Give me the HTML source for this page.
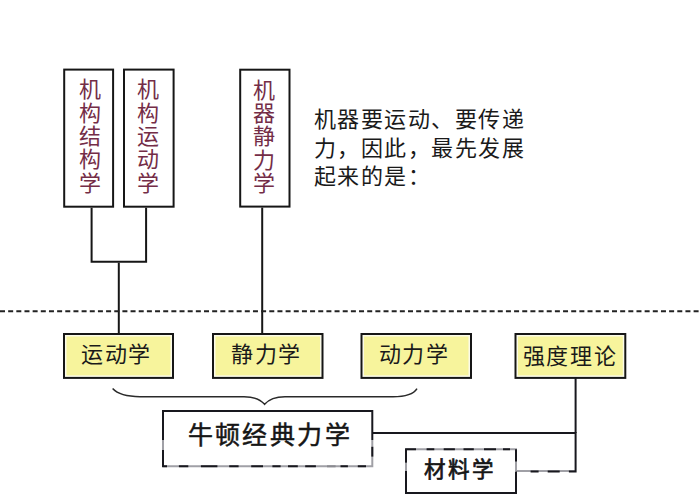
<!DOCTYPE html>
<html lang="zh-CN"><head><meta charset="utf-8">
<style>
html,body{margin:0;padding:0;background:#fff;}
body{width:700px;height:498px;position:relative;overflow:hidden;font-family:"Liberation Sans",sans-serif;}
svg{position:absolute;left:0;top:0;}
.t{position:absolute;white-space:nowrap;line-height:1;}
.v{color:#742d47;font-size:22px;width:24px;line-height:23.3px;}
.p{color:#1a1a1a;font-size:22px;line-height:28.2px;letter-spacing:1.5px;}
.y{color:#1a1a1a;font-size:22px;line-height:22px;letter-spacing:1.6px;}
.b{color:#161616;font-size:25px;line-height:25px;letter-spacing:2.4px;-webkit-text-stroke:0.5px #161616;}
</style></head><body>
<svg width="700" height="498" viewBox="0 0 700 498">
 <g fill="none" stroke="#161616" stroke-width="2">
  <rect x="64.2" y="69.6" width="48.9" height="137.1"/>
  <rect x="124" y="69.6" width="49.6" height="137.1"/>
  <rect x="240.2" y="69.7" width="49.3" height="136.9"/>
  <path d="M91.6 207.7 V261.7 H146.1 V207.7"/>
  <path d="M118.8 262.7 V333"/>
  <path d="M262.2 207.6 V333"/>
 </g>
 <line x1="0" y1="311.3" x2="700" y2="311.3" stroke="#222" stroke-width="2" stroke-dasharray="5 3.16"/>
 <g fill="#fbfbe8" stroke="#161616" stroke-width="2">
  <rect x="64" y="334" width="109" height="43.9"/>
  <rect x="213" y="334" width="109.5" height="43.9"/>
  <rect x="361.5" y="334" width="109.5" height="43.9"/>
  <rect x="515.5" y="334" width="109.8" height="43.9"/>
 </g>
 <g fill="#f7f49c">
  <rect x="66.5" y="336.5" width="104" height="38.9"/>
  <rect x="215.5" y="336.5" width="104.5" height="38.9"/>
  <rect x="364.0" y="336.5" width="104.5" height="38.9"/>
  <rect x="518.0" y="336.5" width="104.8" height="38.9"/>
 </g>
 <path d="M112.6 388.6 Q120 396.7 140 396.7 H244 Q258 396.7 264.6 404.3 Q271 396.7 285 396.7 H393 Q412 396.7 417 388.6" fill="none" stroke="#2a2a2a" stroke-width="1.5"/>
 <g fill="none" stroke="#a0a0a6" stroke-width="2">
  <path d="M163 466.3 H372.3 V440"/>
  <path d="M163 440 V450"/>
  <path d="M406 449.2 H516 V471"/>
  <path d="M406 462.7 V471"/>
  <path d="M516 471 H575.6"/>
 </g>
 <g fill="none" stroke="#18181e" stroke-width="2">
  <path d="M163 440 V411 H372.3 V440"/>
  <path d="M163 450 V466.3 H167"/>
  <path d="M178.9 466.3 H188.3 M200.9 466.3 H217.4 M229.2 466.3 H238.6 M251.2 466.3 H263 M272.4 466.3 H280.6 M288 466.3 H297.8 M305.2 466.3 H315.9 M340.5 466.3 H347.9 M357.8 466.3 H366"/>
  <path d="M327 466.3 H335.6" stroke="#8a8a90"/>
  <path d="M372.3 446.8 V456.6"/>
  <path d="M373 432.9 H575.6 V471.5 H568.9"/>
  <path d="M575.6 377.9 V433"/>
  <path d="M559.7 471.5 H547.7 M538.6 471.5 H530.6"/>
  <path d="M406 471 V493.1 H516 V471.5"/>
  <path d="M406 462.7 V449.2 H416"/>
  <path d="M426.6 449.2 H434.3 M443.7 449.2 H454.9 M463.5 449.2 H473.8 M484 449.2 H496 M503 449.2 H510 M516 449.2 V461.6"/>
 </g>
</svg>
<div class="t v" style="left:78.5px;top:78.4px;">机<br>构<br>结<br>构<br>学</div>
<div class="t v" style="left:137px;top:78.4px;">机<br>构<br>运<br>动<br>学</div>
<div class="t v" style="left:252.5px;top:78.8px;">机<br>器<br>静<br>力<br>学</div>
<div class="t p" style="left:313.5px;top:106.4px;">机器要运动、要传递<br>力，因此，最先发展<br>起来的是：</div>
<div class="t y" style="left:81px;top:344px;">运动学</div>
<div class="t y" style="left:231.3px;top:343.5px;">静力学</div>
<div class="t y" style="left:378.8px;top:344.3px;">动力学</div>
<div class="t y" style="left:522.8px;top:346px;">强度理论</div>
<div class="t b" style="left:187.6px;top:423.2px;">牛顿经典力学</div>
<div class="t b" style="left:424.3px;top:460.2px;font-size:21.5px;line-height:21.5px;letter-spacing:2px;-webkit-text-stroke:0.7px #161616;">材料学</div>
</body></html>
